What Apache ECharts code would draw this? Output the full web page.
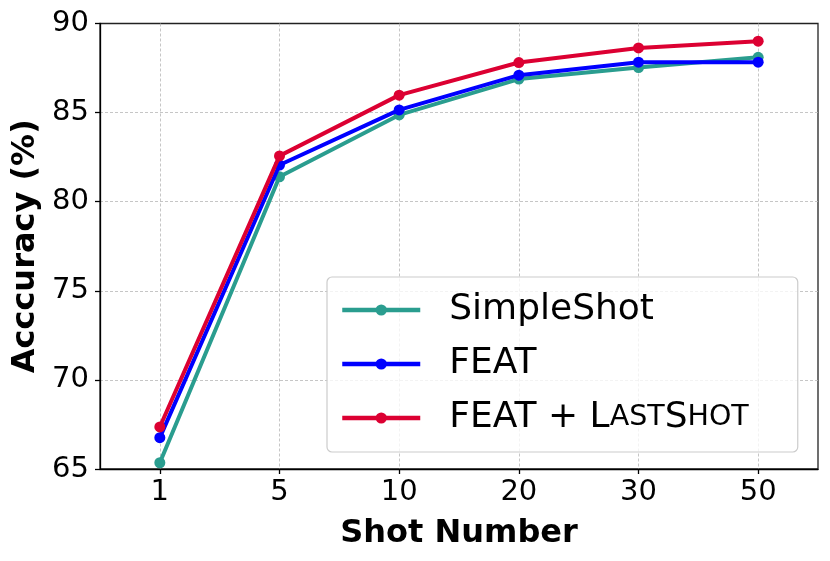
<!DOCTYPE html>
<html>
<head>
<meta charset="utf-8">
<script src="https://cdn.jsdelivr.net/npm/echarts@6/dist/echarts.min.js"></script>
<style>
html,body{margin:0;padding:0;background:#fff;}
#chart{width:830px;height:561px;}
</style>
</head>
<body>
<div id="chart"></div>
<script>
const shots = ['1', '5', '10', '20', '30', '50'];
const simpleShot = [65.35, 81.4, 84.87, 86.88, 87.53, 88.1];
const feat = [66.76, 82.06, 85.15, 87.1, 87.83, 87.83];
const featLastShot = [67.36, 82.57, 85.98, 87.81, 88.63, 89.01];
const seriesNames = ['SimpleShot', 'FEAT', 'FEAT + LastShot'];
const seriesColors = ['#2a9d8f', '#0000ff', '#dc0032'];
const yTicks = [65, 70, 75, 80, 85, 90];

const FONT = 'DejaVu Sans';
const chart = echarts.init(document.getElementById('chart'), null, {renderer: 'canvas'});

function mkSeries(name, data, color, z) {
  return {
    name: name,
    type: 'line',
    data: data,
    z: z,
    symbol: 'circle',
    symbolSize: 11,
    lineStyle: {width: 4, color: color},
    itemStyle: {color: color},
    emphasis: {disabled: true},
    animation: false
  };
}

const option = {
  animation: false,
  textStyle: {fontFamily: FONT},
  grid: {
    left: 100, right: 12, top: 23.5, bottom: 92,
    containLabel: false,
    outerBoundsMode: 'none',
    show: true, borderColor: '#222', borderWidth: 1.3, backgroundColor: 'transparent'
  },
  legend: {
    orient: 'vertical',
    left: 327, top: 277,
    padding: [13, 49, 14, 13],
    itemGap: 14,
    itemWidth: 78, itemHeight: 14,
    lineStyle: {width: 4.5},
    backgroundColor: 'rgba(255,255,255,0.8)',
    borderColor: '#cccccc', borderWidth: 1.2, borderRadius: 5,
    data: seriesNames,
    formatter: function (n) {
      if (n === 'FEAT + LastShot') return 'FEAT + L{sc|AST}S{sc|HOT}';
      return n;
    },
    textStyle: {
      fontFamily: FONT, fontSize: 36, color: '#000', lineHeight: 40,
      padding: [0, 0, 0, 24],
      rich: {
        sc: {fontFamily: FONT, fontSize: 28.5, color: '#000', lineHeight: 40}
      }
    }
  },
  xAxis: {
    type: 'category',
    data: shots,
    boundaryGap: true,
    name: 'Shot Number',
    nameLocation: 'middle',
    nameGap: 49,
    nameTextStyle: {fontFamily: FONT, fontSize: 32, fontWeight: 'bold', color: '#000'},
    axisLine: {show: true, lineStyle: {color: '#000', width: 1.3}},
    axisTick: {show: true, alignWithLabel: true, length: 5, lineStyle: {color: '#000', width: 1.3}},
    axisLabel: {fontFamily: FONT, fontSize: 29, color: '#000', margin: 9},
    splitLine: {show: true, alignWithLabel: true, lineStyle: {color: '#b8b8b8', width: 0.8, type: [3, 2]}}
  },
  yAxis: {
    type: 'value',
    min: 65, max: 90, interval: 5,
    name: 'Acccuracy (%)',
    nameLocation: 'middle',
    nameGap: 58,
    nameTextStyle: {fontFamily: FONT, fontSize: 32, fontWeight: 'bold', color: '#000'},
    axisLine: {show: true, lineStyle: {color: '#000', width: 1.3}},
    axisTick: {show: true, length: 5, lineStyle: {color: '#000', width: 1.3}},
    axisLabel: {fontFamily: FONT, fontSize: 29, color: '#000', margin: 11,
      formatter: function (v) { return yTicks.indexOf(v) >= 0 ? String(v) : ''; }},
    splitLine: {show: true, showMinLine: false, showMaxLine: false,
      lineStyle: {color: '#b8b8b8', width: 0.8, type: [3, 2]}}
  },
  series: [
    mkSeries(seriesNames[0], simpleShot, seriesColors[0], 2),
    mkSeries(seriesNames[1], feat, seriesColors[1], 3),
    mkSeries(seriesNames[2], featLastShot, seriesColors[2], 4)
  ]
};
chart.setOption(option);
</script>
</body>
</html>
